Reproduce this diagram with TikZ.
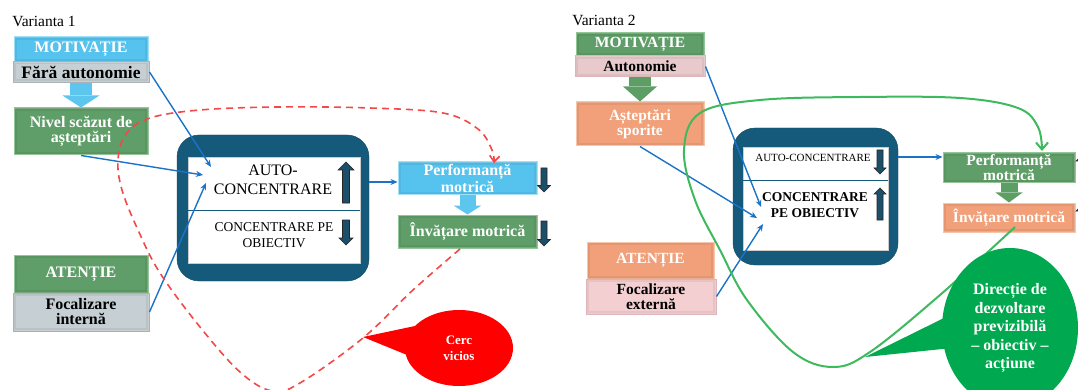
\documentclass[tikz,border=0pt]{standalone}
\usepackage{fontspec}
\setmainfont{Liberation Serif}
\usetikzlibrary{arrows.meta,shapes.geometric,calc}
\definecolor{lblue}{HTML}{55C3EE}
\definecolor{lblueE}{HTML}{A2E0F7}
\definecolor{gry}{HTML}{C6CFD3}
\definecolor{gryE}{HTML}{A9B3B7}
\definecolor{grn}{HTML}{5F9E68}
\definecolor{grnE}{HTML}{92C699}
\definecolor{tealbox}{HTML}{165A7B}
\definecolor{tealind}{HTML}{1B4F6A}
\definecolor{org}{HTML}{F1A079}
\definecolor{orgE}{HTML}{F7C6AA}
\definecolor{pnk}{HTML}{F3CFD2}
\definecolor{pnkE}{HTML}{DDB5B9}
\definecolor{pnkA}{HTML}{E8CACD}
\definecolor{arrblue}{HTML}{1A73C8}
\definecolor{redd}{HTML}{F24848}
\definecolor{grline}{HTML}{3DBA5E}
\definecolor{grcall}{HTML}{00A94F}
\definecolor{fatblue}{HTML}{5CC6EE}
\definecolor{fatgreen}{HTML}{5C9E64}
\newcommand{\upind}[5]{\draw[indstyle] (#1,#2) -- (#1+0.5*#4,#2+0.5*#4) -- (#1+0.5*#5,#2+0.5*#4) -- (#1+0.5*#5,#3) -- (#1-0.5*#5,#3) -- (#1-0.5*#5,#2+0.5*#4) -- (#1-0.5*#4,#2+0.5*#4) -- cycle;}
\newcommand{\dnind}[5]{\draw[indstyle] (#1,#3) -- (#1+0.5*#4,#3-0.5*#4) -- (#1+0.5*#5,#3-0.5*#4) -- (#1+0.5*#5,#2) -- (#1-0.5*#5,#2) -- (#1-0.5*#5,#3-0.5*#4) -- (#1-0.5*#4,#3-0.5*#4) -- cycle;}
\begin{document}
\begin{tikzpicture}[x=1pt,y=-1pt,
  box/.style={rectangle, inner sep=1pt, align=center, line width=1pt,
    path picture={\draw[black, opacity=0.06, line width=6pt] (path picture bounding box.south west) rectangle (path picture bounding box.north east);
                  \draw[white, opacity=0.2, line width=2.5pt] (path picture bounding box.south west) rectangle (path picture bounding box.north east);}},
  fa/.style={box, font=\bfseries\fontsize{16}{15}\selectfont},
  fb/.style={box, font=\bfseries\fontsize{15.5}{15}\selectfont},
  indstyle/.style={fill=tealind, draw=black!85, line width=0.6pt},
  bluearr/.style={arrblue, line width=1.4pt, -{Stealth[length=7pt,width=6pt]}},
  reddash/.style={redd, line width=1.6pt, dash pattern=on 7pt off 5pt, -{Straight Barb[length=6pt,width=10pt]}},
  greenln/.style={grline, line width=2pt, -{Straight Barb[length=7pt,width=12pt]}},
  lbl/.style={font=\fontsize{15.5}{17}\selectfont}
]
\useasboundingbox (0,0) rectangle (1078,390);
\clip (0,0) rectangle (1078,390);

% ---------------- Variant 1 ----------------
\node[lbl] (v1) at (44,21) {Varianta 1};
\node[fa, text=white, fill=lblue, draw=lblueE, minimum width=134, minimum height=25] (mot1) at (81,49.5) {MOTIVAȚIE};
\node[fa, font=\bfseries\fontsize{17.5}{15}\selectfont, text=black, fill=gry, draw=gryE, minimum width=136, minimum height=21] (fara) at (81,72) {Fără autonomie};
\node[fa, text=white, fill=grn, draw=grnE, minimum width=134, minimum height=47] (nivel) at (81,131.5) {Nivel scăzut de\\așteptări};
\node[fa, text=white, fill=grn, draw=grnE, minimum width=134, minimum height=38] (aten1) at (81,274) {ATENȚIE};
\node[fa, text=black, fill=gry, draw=gryE, minimum width=136, minimum height=38] (foc1) at (81,312) {Focalizare\\internă};
\draw[line width=22pt, fatblue, -{Triangle[width=37pt,length=12pt,line width=0pt]}] (fara.south) -- (nivel.north);

\node[draw=tealbox!80!black, fill=tealbox, rounded corners=22, minimum width=192, minimum height=146] (big1) at (273,208) {};
\node[fill=white, draw=gray!40, minimum width=172, minimum height=106] (in1) at (274,210) {};
\draw[tealbox, line width=1pt] (in1.west) -- (in1.east);
\node[font=\fontsize{16}{19}\selectfont, align=center] (ac1) at (273,180) {AUTO-\\CONCENTRARE};
\node[font=\fontsize{13.5}{16}\selectfont, align=center] (co1) at (274,235) {CONCENTRARE PE\\OBIECTIV};
\upind{346}{162}{203}{16}{7}
\dnind{346}{220}{245}{14}{7}

\node[fa, text=white, fill=lblue, draw=lblueE, minimum width=139, minimum height=33] (perf1) at (467.5,178.5) {Performanță\\motrică};
\node[fa, text=white, fill=grn, draw=grnE, minimum width=139, minimum height=33] (inv1) at (467.5,231.5) {Învățare motrică};
\draw[line width=16pt, fatblue, -{Triangle[width=28pt,length=9pt,line width=0pt]}] (perf1.south) -- (inv1.north);
\dnind{544}{168}{192}{13}{6}
\dnind{544}{221}{246}{13}{6}
\draw[bluearr] (big1.east |- 0,182) -- (perf1.west |- 0,182);

\coordinate (t1a) at (211,167);
\coordinate (t1b) at (203,175);
\coordinate (t1c) at (206,183);
\draw[bluearr] (fara.east) -- (t1a);
\draw[bluearr] (nivel.south) -- (t1b);
\draw[bluearr] (foc1.east) -- (t1c);

\coordinate (rs) at (460,249);
\coordinate (re) at (494,163);
\draw[reddash] plot[smooth, tension=0.6] coordinates {(rs) (413,290) (363,338) (300,383) (272,391) (240,372) (200,327) (160,273) (138,230) (122,190) (118,160) (126,134) (150,118) (200,110) (277,107) (370,108) (443,113) (478,129) (492,150) (re)};

\coordinate (ctip) at (363,337);
\fill[red] (ctip) -- (415,326) -- (412,357) -- cycle;
\node[ellipse, fill=red, minimum width=108, minimum height=76, inner sep=0pt, text=white, align=center, font=\bfseries\fontsize{13}{16}\selectfont] (cerc) at (459,348) {Cerc\\vicios};

% ---------------- Variant 2 ----------------
\node[lbl] (v2) at (604,20) {Varianta 2};
\node[fb, text=white, fill=grn, draw=grnE, minimum width=128, minimum height=23] (mot2) at (640,44.5) {MOTIVAȚIE};
\node[fb, text=black, fill=pnkA, draw=pnkE, minimum width=130, minimum height=21] (auto2) at (640,66.5) {Autonomie};
\node[fb, text=white, fill=org, draw=orgE, minimum width=128, minimum height=44] (astept) at (640,124) {Așteptări\\sporite};
\draw[line width=22pt, fatgreen, -{Triangle[width=34pt,length=15pt,line width=0pt]}] (auto2.south) -- (astept.north);
\node[fb, text=white, fill=org, draw=orgE, minimum width=127, minimum height=37] (aten2) at (650.5,260.5) {ATENȚIE};
\node[fb, text=black, fill=pnk, draw=pnkE, minimum width=130, minimum height=35] (foc2) at (651,296.5) {Focalizare\\externă};

\node[draw=tealbox!80!black, fill=tealbox, rounded corners=22, minimum width=165, minimum height=137] (big2) at (815.5,196.5) {};
\node[fill=white, draw=gray!40, minimum width=145, minimum height=103] (in2) at (815.5,198.5) {};
\draw[tealbox, line width=1pt] (in2.west |- 0,181) -- (in2.east |- 0,181);
\node[font=\fontsize{11}{13}\selectfont] (ac2) at (813,158) {AUTO-CONCENTRARE};
\node[font=\bfseries\fontsize{13.5}{16}\selectfont, align=center] (co2) at (815,205) {CONCENTRARE\\PE OBIECTIV};
\dnind{880}{150}{174}{12}{6}
\upind{880}{188}{220}{12}{6}

\node[fb, text=white, fill=grn, draw=grnE, minimum width=132, minimum height=30] (perf2) at (1009,168) {Performanță\\motrică};
\node[fb, text=white, fill=org, draw=orgE, minimum width=132, minimum height=29] (inv2) at (1009,217.5) {Învățare motrică};
\draw[line width=17pt, fatgreen, -{Triangle[width=27pt,length=10pt,line width=0pt]}] (perf2.south) -- (inv2.north);
\upind{1082}{155}{180}{12}{5}
\upind{1082}{205}{230}{12}{5}
\draw[bluearr] (big2.east |- 0,157) -- (perf2.west |- 0,157);

\coordinate (t2a) at (761,207);
\coordinate (t2b) at (757,218);
\coordinate (t2c) at (763,224);
\draw[bluearr] (auto2.east) -- (t2a);
\draw[bluearr] (astept.south) -- (t2b);
\draw[bluearr] (foc2.east) -- (t2c);

\coordinate (gs) at (1015,227);
\coordinate (ge) at (1042,151);
\draw[greenln] plot[smooth, tension=0.6] coordinates {(gs) (940,295) (870,352) (833,367) (793,352) (747,300) (720,250) (695,200) (684,150) (700,113) (760,100) (860,97) (960,98) (1018,108) (1038,127) (ge)};

\coordinate (gtip) at (865,357);
\fill[grcall] (gtip) -- (948,316) -- (952,348) -- cycle;
\node[ellipse, fill=grcall, minimum width=136, minimum height=160, inner sep=0pt, text=white, align=center, font=\bfseries\fontsize{16}{18.5}\selectfont] (dir) at (1010,328) {Direcție de\\dezvoltare\\previzibilă\\– obiectiv –\\acțiune};
\end{tikzpicture}
\end{document}
